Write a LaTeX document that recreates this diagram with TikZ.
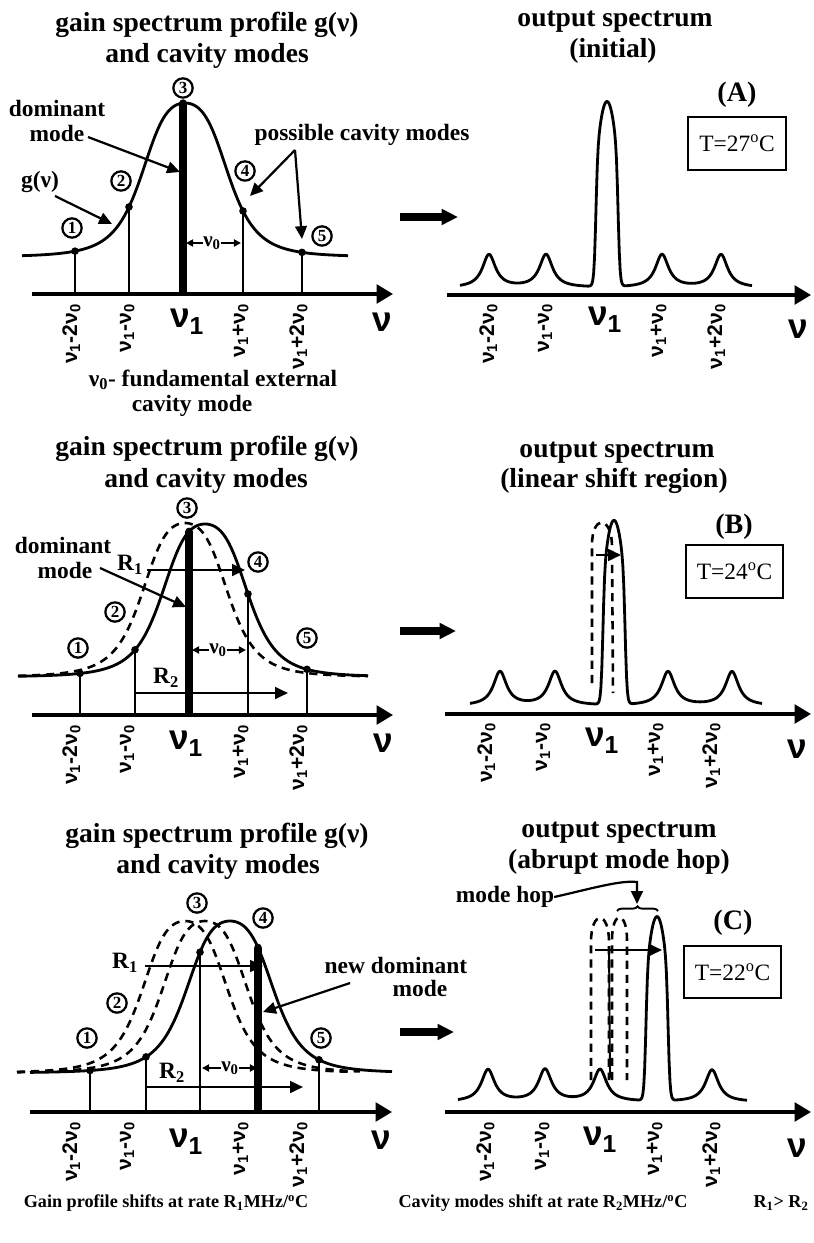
\documentclass[tikz,border=0pt]{standalone}
\usepackage{fontspec}
\setmainfont{Liberation Serif}
\setsansfont{Liberation Sans}
\usetikzlibrary{arrows.meta,decorations.pathreplacing}
\pgfmathdeclarefunction{gn}{5}{\pgfmathparse{(#1-(#2))/(#5)}\let\gnu\pgfmathresult\pgfmathparse{(\gnu)*(\gnu)}\let\gnq\pgfmathresult\pgfmathparse{#3-(#4)/(1+0.4*\gnq+\gnq*\gnq)}}
\pgfmathdeclarefunction{lor}{2}{\pgfmathparse{(#1-(#2))/8}\let\lou\pgfmathresult\pgfmathparse{1/(1+(\lou)*(\lou))}}
\pgfmathdeclarefunction{pk}{2}{\pgfmathparse{min(abs(#1-(#2))/11.5,2.1)}\let\pkv\pgfmathresult\pgfmathparse{\pkv*\pkv*\pkv}\let\pkw\pgfmathresult\pgfmathparse{max(0,1-0.2*((#1-(#2))/8.5)*((#1-(#2))/8.5))/(1+\pkw*\pkw*\pkw*\pkw)}}
\tikzset{
 every node/.style={inner sep=0pt,outer sep=0pt},
 ttl/.style={font=\fontsize{23.5}{28}\selectfont\bfseries,anchor=base},
 lbl/.style={font=\fontsize{20}{24}\selectfont\bfseries},
 crv/.style={line width=2.4pt,line join=round},
 dsh/.style={line width=2.2pt,dash pattern=on 7pt off 5pt},
 axisline/.style={line width=2.8pt,-{Triangle[length=14pt,width=16pt]}},
 mline/.style={line width=2.2pt},
 dline/.style={line width=6pt},
 ann/.style={line width=1.9pt,-{Triangle[length=11pt,width=10pt]}},
 sann/.style={line width=1.5pt,-{Triangle[length=6pt,width=6pt]}},
 bigarrow/.style={line width=7.5pt,-{Triangle[length=14pt,width=13pt]}},
 tlab/.style={font=\fontsize{18}{20}\selectfont\sffamily\bfseries,rotate=90,anchor=base east},
 nulab/.style={font=\fontsize{30}{30}\selectfont\sffamily\bfseries},
 cnum/.style={circle,draw,line width=1.9pt,minimum size=16.5pt,font=\fontsize{14.5}{14.5}\selectfont\bfseries},
 tbox/.style={draw,line width=1.7pt,minimum width=83pt,minimum height=45pt,font=\fontsize{20}{20}\selectfont},
 plab/.style={font=\fontsize{24}{24}\selectfont\bfseries},
 nuo/.style={font=\fontsize{18}{18}\selectfont\bfseries},
 dot/.style={circle,fill,minimum size=6.5pt},
 tdot/.style={circle,fill,minimum size=3.5pt},
 btxt/.style={font=\fontsize{15.5}{16}\selectfont\bfseries},
}
\begin{document}
\begin{tikzpicture}[x=0.03cm,y=-0.03cm]
\useasboundingbox (0,0) rectangle (813,1243);

%================ PANEL 1 =================
\node[ttl] (t1a) at (207,32) {gain spectrum profile g(ν)};
\node[ttl] (t1b) at (207,63) {and cavity modes};
\coordinate (a1s) at (32,294); \coordinate (a1e) at (393,294);
\draw[axisline] (a1s) -- (a1e);
\draw[crv] plot[domain=22:348,samples=160] (\x,{gn(\x,185,257,154,50)});
\foreach \i/\xx in {1/75,2/129,4/243,5/302}{
  \coordinate (p1b\i) at (\xx,294);
  \coordinate (p1t\i) at (\xx,{gn(\xx,185,257,154,50)});
  \draw[mline] (p1b\i) -- (p1t\i);
  \node[dot] (d1\i) at (p1t\i) {};
}
\coordinate (p1b3) at (183,294); \coordinate (p1t3) at (183,{gn(183,185,257,154,50)});
\draw[dline] (p1b3) -- (p1t3);
\node[dot] (d13) at (p1t3) {};
\node[cnum] (c11) at (72,228) {1};
\node[cnum] (c12) at (121,181) {2};
\node[cnum] (c13) at (183,88) {3};
\node[cnum] (c14) at (245,171) {4};
\node[cnum] (c15) at (322,236) {5};
\node[lbl] (dm1a) at (57,108) {dominant};
\node[lbl] (dm1b) at (57,133) {mode};
\coordinate (dm1s) at (88,137); \coordinate (dm1t) at (180,172);
\draw[ann] (dm1s) -- (dm1t);
\node[lbl] (g1) at (40,182) {g(ν)};
\coordinate (g1s) at (55,196); \coordinate (g1t) at (112,224);
\draw[ann] (g1s) -- (g1t);
\node[lbl] (pcm) at (362,135) {possible cavity modes};
\coordinate (pcmj) at (295,150); \coordinate (pcm4) at (250,196); \coordinate (pcm5) at (302,239);
\draw[ann] (pcmj) -- (pcm4);
\draw[ann] (pcmj) -- (pcm5);
\node[nuo] (nu01) at (212,243) {ν\textsubscript{0}};
\coordinate (nu01l) at (186,243); \coordinate (nu01r) at (241,243);
\draw[sann] (nu01.west) -- (nu01l);
\draw[sann] (nu01.east) -- (nu01r);
\node[tlab] (l11) at (77,304) {ν\textsubscript{1}-2ν\textsubscript{0}};
\node[tlab] (l12) at (131,304) {ν\textsubscript{1}-ν\textsubscript{0}};
\node[tlab] (l14) at (245,304) {ν\textsubscript{1}+ν\textsubscript{0}};
\node[tlab] (l15) at (304,304) {ν\textsubscript{1}+2ν\textsubscript{0}};
\node[nulab] (n1) at (187,322) {ν\textsubscript{1}};
\node[nulab] (nu1) at (382,322) {ν};
\node[lbl] (fe1) at (213,380) {ν\textsubscript{0}- fundamental external};
\node[lbl] (fe2) at (192,406) {cavity mode};
\coordinate (ba1s) at (400,217); \coordinate (ba1e) at (458,217);
\draw[bigarrow] (ba1s) -- (ba1e);

%================ PANEL A =================
\node[ttl] (tAa) at (615,27) {output spectrum};
\node[ttl] (tAb) at (613,58) {(initial)};
\node[plab] (pA) at (737,95) {(A)};
\node[tbox] (bA) at (737,143.5) {T=27\textsuperscript{o}C};
\coordinate (aAs) at (447,295); \coordinate (aAe) at (811,295);
\draw[axisline] (aAs) -- (aAe);
\foreach \xx [count=\i] in {492,547,602,661,720}{\node[tdot] (tA\i) at (\xx,295) {};}
\draw[crv] plot[domain=460:752,samples=320] (\x,{288-33*(lor(\x,489)+lor(\x,546)+lor(\x,662)+lor(\x,721))-185*pk(\x,607)});
\node[tlab] (lA1) at (494,304) {ν\textsubscript{1}-2ν\textsubscript{0}};
\node[tlab] (lA2) at (549,304) {ν\textsubscript{1}-ν\textsubscript{0}};
\node[tlab] (lA4) at (663,304) {ν\textsubscript{1}+ν\textsubscript{0}};
\node[tlab] (lA5) at (722,304) {ν\textsubscript{1}+2ν\textsubscript{0}};
\node[nulab] (nA) at (605,320) {ν\textsubscript{1}};
\node[nulab] (nuA) at (798,329) {ν};

%================ PANEL 2 =================
\node[ttl] (t2a) at (207,455) {gain spectrum profile g(ν)};
\node[ttl] (t2b) at (206,487) {and cavity modes};
\coordinate (a2s) at (32,715); \coordinate (a2e) at (393,715);
\draw[axisline] (a2s) -- (a2e);
\foreach \xx [count=\i] in {73,128,182,242,300}{\node[tdot] (t2\i) at (\xx,715) {};}
\draw[dsh] plot[domain=18:368,samples=160] (\x,{gn(\x,185,677,154,50)});
\draw[crv] plot[domain=18:368,samples=160] (\x,{gn(\x,205,677,153,50)});
\foreach \i/\xx in {1/80,2/135,4/248,5/307}{
  \coordinate (p2b\i) at (\xx,715);
  \coordinate (p2t\i) at (\xx,{gn(\xx,205,677,153,50)});
  \draw[mline] (p2b\i) -- (p2t\i);
  \node[dot] (d2\i) at (p2t\i) {};
}
\coordinate (p2b3) at (189,715); \coordinate (p2t3) at (189,{gn(189,205,677,153,50)});
\draw[dline] (p2b3) -- (p2t3);
\node[dot] (d23) at (p2t3) {};
\node[cnum] (c21) at (78,648) {1};
\node[cnum] (c22) at (115,612) {2};
\node[cnum] (c23) at (187,508) {3};
\node[cnum] (c24) at (258,562) {4};
\node[cnum] (c25) at (307,638) {5};
\node[lbl] (dm2a) at (63,545) {dominant};
\node[lbl] (dm2b) at (65,570) {mode};
\coordinate (dm2s) at (100,568); \coordinate (dm2t) at (186,607);
\draw[ann] (dm2s) -- (dm2t);
\node[lbl] (r21) at (130,565) {R\textsubscript{1}};
\coordinate (r21s) at (147,570); \coordinate (r21e) at (245,570);
\draw[ann] (r21s) -- (r21e);
\node[lbl] (r22) at (166,678) {R\textsubscript{2}};
\coordinate (r22s) at (135,693); \coordinate (r22e) at (288,693);
\draw[ann] (r22s) -- (r22e);
\node[nuo] (nu02) at (218,650) {ν\textsubscript{0}};
\coordinate (nu02l) at (192,650); \coordinate (nu02r) at (246,650);
\draw[sann] (nu02.west) -- (nu02l);
\draw[sann] (nu02.east) -- (nu02r);
\node[tlab] (l21) at (77,725) {ν\textsubscript{1}-2ν\textsubscript{0}};
\node[tlab] (l22) at (131,725) {ν\textsubscript{1}-ν\textsubscript{0}};
\node[tlab] (l24) at (245,725) {ν\textsubscript{1}+ν\textsubscript{0}};
\node[tlab] (l25) at (304,725) {ν\textsubscript{1}+2ν\textsubscript{0}};
\node[nulab] (n2) at (186,744) {ν\textsubscript{1}};
\node[nulab] (nu2) at (383,743) {ν};
\coordinate (ba2s) at (400,631); \coordinate (ba2e) at (456,631);
\draw[bigarrow] (ba2s) -- (ba2e);

%================ PANEL B =================
\node[ttl] (tBa) at (617,457) {output spectrum};
\node[ttl] (tBb) at (614,487) {(linear shift region)};
\node[plab] (pB) at (734,527) {(B)};
\node[tbox] (bB) at (734.5,571.5) {T=24\textsuperscript{o}C};
\coordinate (aBs) at (445,714); \coordinate (aBe) at (811,714);
\draw[axisline] (aBs) -- (aBe);
\foreach \xx [count=\i] in {490,545,600,658,715}{\node[tdot] (tB\i) at (\xx,714) {};}
\draw[crv] plot[domain=470:762,samples=320] (\x,{706-34*(lor(\x,500)+lor(\x,555)+lor(\x,668)+lor(\x,732))-184*pk(\x,614)});
\coordinate (oBl) at (592,683); \coordinate (oBr) at (613,693);
\draw[dsh] (oBl) -- (592,545) .. controls (592,515) and (611,515) .. (612,545) -- (oBr);
\coordinate (sBs) at (596,555); \coordinate (sBe) at (621,555);
\draw[ann] (sBs) -- (sBe);
\node[tlab] (lB1) at (492,723) {ν\textsubscript{1}-2ν\textsubscript{0}};
\node[tlab] (lB2) at (547,723) {ν\textsubscript{1}-ν\textsubscript{0}};
\node[tlab] (lB4) at (660,723) {ν\textsubscript{1}+ν\textsubscript{0}};
\node[tlab] (lB5) at (717,723) {ν\textsubscript{1}+2ν\textsubscript{0}};
\node[nulab] (nB) at (602,741) {ν\textsubscript{1}};
\node[nulab] (nuB) at (797,749) {ν};

%================ PANEL 3 =================
\node[ttl] (t3a) at (217,842) {gain spectrum profile g(ν)};
\node[ttl] (t3b) at (218,873) {and cavity modes};
\coordinate (a3s) at (30,1112); \coordinate (a3e) at (392,1112);
\draw[axisline] (a3s) -- (a3e);
\foreach \xx [count=\i] in {73,128,182,242,300}{\node[tdot] (t3\i) at (\xx,1112) {};}
\draw[dsh] plot[domain=17:350,samples=160] (\x,{gn(\x,185,1073,152,50)});
\draw[dsh] plot[domain=17:360,samples=160] (\x,{gn(\x,205,1073,152,50)});
\draw[crv] plot[domain=30:392,samples=160] (\x,{gn(\x,230,1073,152,51)});
\foreach \i/\xx in {1/90,2/146,3/200,5/319}{
  \coordinate (p3b\i) at (\xx,1112);
  \coordinate (p3t\i) at (\xx,{gn(\xx,230,1073,152,51)});
  \draw[mline] (p3b\i) -- (p3t\i);
  \node[dot] (d3\i) at (p3t\i) {};
}
\coordinate (p3b4) at (258,1112); \coordinate (p3t4) at (258,{gn(258,230,1073,152,51)});
\draw[dline] (p3b4) -- (p3t4);
\node[dot] (d34) at (p3t4) {};
\node[cnum] (c31) at (87,1038) {1};
\node[cnum] (c32) at (117,1003) {2};
\node[cnum] (c33) at (197,903) {3};
\node[cnum] (c34) at (263,918) {4};
\node[cnum] (c35) at (321,1038) {5};
\node[lbl] (r31) at (125,963) {R\textsubscript{1}};
\coordinate (r31s) at (145,966); \coordinate (r31e) at (263,966);
\draw[ann] (r31s) -- (r31e);
\node[lbl] (r32) at (172,1073) {R\textsubscript{2}};
\coordinate (r32s) at (146,1087); \coordinate (r32e) at (303,1087);
\draw[ann] (r32s) -- (r32e);
\node[nuo] (nu03) at (230,1068) {ν\textsubscript{0}};
\coordinate (nu03l) at (202,1068); \coordinate (nu03r) at (257,1068);
\draw[sann] (nu03.west) -- (nu03l);
\draw[sann] (nu03.east) -- (nu03r);
\node[lbl] (nd3a) at (396,965) {new dominant};
\node[lbl] (nd3b) at (420,988) {mode};
\coordinate (nd3s) at (350,983); \coordinate (nd3t) at (263,1012);
\draw[ann] (nd3s) -- (nd3t);
\node[tlab] (l31) at (77,1122) {ν\textsubscript{1}-2ν\textsubscript{0}};
\node[tlab] (l32) at (131,1122) {ν\textsubscript{1}-ν\textsubscript{0}};
\node[tlab] (l34) at (245,1122) {ν\textsubscript{1}+ν\textsubscript{0}};
\node[tlab] (l35) at (304,1122) {ν\textsubscript{1}+2ν\textsubscript{0}};
\node[nulab] (n3) at (186,1142) {ν\textsubscript{1}};
\node[nulab] (nu3) at (381,1140) {ν};
\coordinate (ba3s) at (400,1032); \coordinate (ba3e) at (454,1032);
\draw[bigarrow] (ba3s) -- (ba3e);

%================ PANEL C =================
\node[ttl] (tCa) at (619,837) {output spectrum};
\node[ttl] (tCb) at (619,868) {(abrupt mode hop)};
\node[lbl] (mh) at (505,897) {mode hop};
\coordinate (mhj) at (637,882); \coordinate (mht) at (637,904);
\draw[ann] (mh.east) .. controls (590,889) and (620,880) .. (mhj) -- (mht);
\coordinate (brl) at (617,911); \coordinate (brr) at (658,911);
\draw[line width=1.6pt,decorate,decoration={brace,amplitude=4pt}] (brl) -- (brr);
\node[plab] (pC) at (733,923) {(C)};
\node[tbox] (bC) at (732.5,972) {T=22\textsuperscript{o}C};
\coordinate (aCs) at (445,1112); \coordinate (aCe) at (811,1112);
\draw[axisline] (aCs) -- (aCe);
\foreach \xx [count=\i] in {489,544,598,657,715}{\node[tdot] (tC\i) at (\xx,1112) {};}
\draw[crv] plot[domain=458:747,samples=320] (\x,{1102-32*(lor(\x,488)+lor(\x,545)+lor(\x,600)+lor(\x,712))-184*pk(\x,657)});
\coordinate (oC1l) at (591,1080); \coordinate (oC1r) at (609,1080);
\draw[dsh] (oC1l) -- (591,942) .. controls (591,910) and (609,910) .. (609,942) -- (oC1r);
\coordinate (oC2l) at (612,1080); \coordinate (oC2r) at (627,1080);
\draw[dsh] (oC2l) -- (612,940) .. controls (612,910) and (627,910) .. (627,940) -- (oC2r);
\coordinate (vCt) at (609,950); \coordinate (vCb) at (610,1078);
\draw[line width=1.6pt] (vCt) -- (vCb);
\coordinate (sCs) at (595,950); \coordinate (sCe) at (662,950);
\draw[ann] (sCs) -- (sCe);
\node[tlab] (lC1) at (491,1122) {ν\textsubscript{1}-2ν\textsubscript{0}};
\node[tlab] (lC2) at (546,1122) {ν\textsubscript{1}-ν\textsubscript{0}};
\node[tlab] (lC4) at (659,1122) {ν\textsubscript{1}+ν\textsubscript{0}};
\node[tlab] (lC5) at (717,1122) {ν\textsubscript{1}+2ν\textsubscript{0}};
\node[nulab] (nC) at (600,1140) {ν\textsubscript{1}};
\node[nulab] (nuC) at (797,1148) {ν};

%================ BOTTOM =================
\node[btxt] (bt1) at (166,1203) {Gain profile shifts at rate R\textsubscript{1}MHz/\textsuperscript{o}C};
\node[btxt] (bt2) at (543,1203) {Cavity modes shift at rate R\textsubscript{2}MHz/\textsuperscript{o}C};
\node[btxt] (bt3) at (781,1203) {R\textsubscript{1}> R\textsubscript{2}};
\end{tikzpicture}
\end{document}
